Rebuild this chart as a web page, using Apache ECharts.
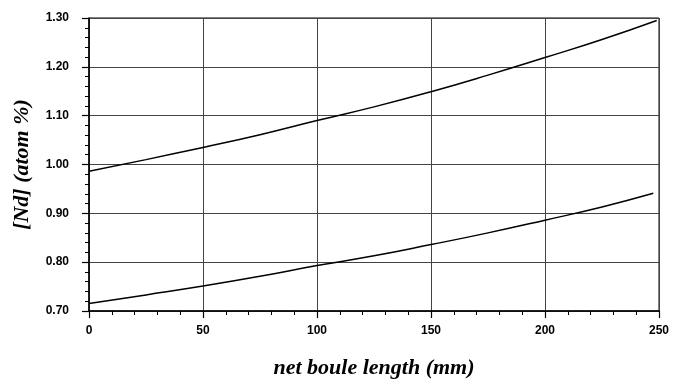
<!DOCTYPE html>
<html>
<head>
<meta charset="utf-8">
<script src="https://cdn.jsdelivr.net/npm/echarts@6/dist/echarts.min.js"></script>
<style>
html,body{margin:0;padding:0;background:#fff;}
#c{width:674px;height:384px;}
</style>
</head>
<body>
<div id="c"></div>
<script>
// Data
var upperX = [0, 25, 50, 75, 100, 125, 150, 175, 200, 225, 249];
var upperY = [0.986, 1.010, 1.035, 1.061, 1.090, 1.118, 1.149, 1.183, 1.219, 1.256, 1.295];
var lowerX = [0, 25, 50, 75, 100, 125, 150, 175, 200, 225, 247.5];
var lowerY = [0.7155, 0.733, 0.751, 0.771, 0.793, 0.813, 0.836, 0.860, 0.886, 0.913, 0.941];
var xTitle = 'net boule length (mm)';
var yTitle = '[Nd] (atom %)';

function pairs(xs, ys){ return xs.map(function(x,i){ return [x, ys[i]]; }); }

var chart = echarts.init(document.getElementById('c'), null, {renderer:'canvas'});
var labelFont = {fontFamily:'Liberation Sans, Arial, sans-serif', fontWeight:'bold', fontSize:12, color:'#000'};
var titleFont = {fontFamily:'Liberation Serif, Times New Roman, serif', fontWeight:'bold', fontStyle:'italic', fontSize:22, color:'#000'};
chart.setOption({
  animation:false,
  backgroundColor:'#fff',
  grid:{left:89, right:15, top:18, bottom:71, show:true, borderColor:'#000', borderWidth:1},
  xAxis:{
    type:'value', min:0, max:250, interval:50,
    name:xTitle, nameLocation:'middle', nameGap:46, nameTextStyle:titleFont,
    axisLine:{lineStyle:{color:'#000', width:1.5}},
    axisTick:{show:true, length:7, lineStyle:{color:'#000', width:1.2}},
    minorTick:{show:true, splitNumber:5, length:4, lineStyle:{color:'#000', width:1}},
    axisLabel:Object.assign({margin:14}, labelFont),
    splitLine:{show:true, lineStyle:{color:'#444', width:1}}
  },
  yAxis:{
    type:'value', min:0.7, max:1.3, interval:0.1,
    name:yTitle, nameLocation:'middle', nameGap:56, nameRotate:90, nameTextStyle:titleFont,
    axisLine:{show:true, lineStyle:{color:'#000', width:1.5}},
    axisTick:{show:true, length:7, lineStyle:{color:'#000', width:1.2}},
    minorTick:{show:true, splitNumber:5, length:4, lineStyle:{color:'#000', width:1}},
    axisLabel:Object.assign({margin:20, formatter:function(v){return v.toFixed(2);}}, labelFont),
    splitLine:{show:true, lineStyle:{color:'#444', width:1}}
  },
  series:[
    {type:'line', data:pairs(upperX, upperY), smooth:true, showSymbol:false, lineStyle:{color:'#000', width:1.5}},
    {type:'line', data:pairs(lowerX, lowerY), smooth:true, showSymbol:false, lineStyle:{color:'#000', width:1.5}}
  ]
});
</script>
</body>
</html>
